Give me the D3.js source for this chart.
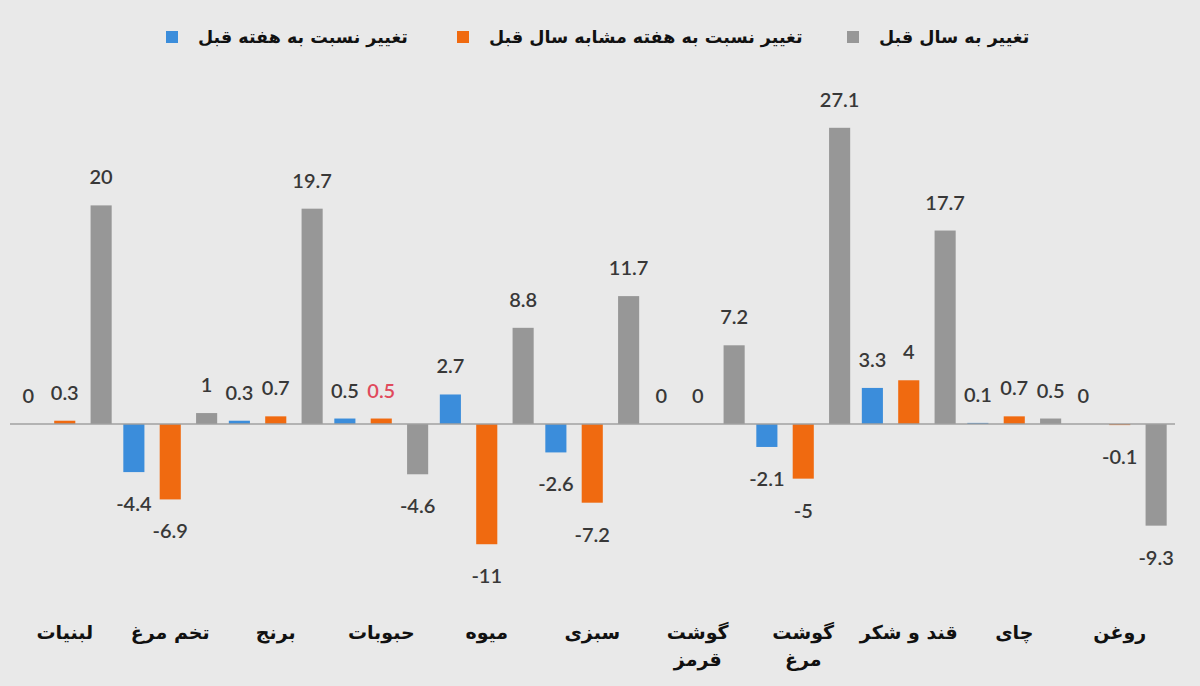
<!DOCTYPE html>
<html><head><meta charset="utf-8">
<script src="https://cdn.jsdelivr.net/npm/d3@7"></script>
<style>
html,body{margin:0;padding:0;background:#e9e9e9;}
svg{display:block;}
</style>
</head><body>
<svg id="chart" width="1200" height="686"></svg>
<script>
const categories = ["لبنیات","تخم مرغ","برنج","حبوبات","میوه","سبزی","گوشت قرمز","گوشت مرغ","قند و شکر","چای","روغن"];
const categoryLines = [["لبنیات"],["تخم مرغ"],["برنج"],["حبوبات"],["میوه"],["سبزی"],["گوشت","قرمز"],["گوشت","مرغ"],["قند و شکر"],["چای"],["روغن"]];
const seriesNames = ["تغییر نسبت به هفته قبل","تغییر نسبت به هفته مشابه سال قبل","تغییر به سال قبل"];
const weekChange = [0,-4.4,0.3,0.5,2.7,-2.6,0,-2.1,3.3,0.1,0];
const sameWeekLastYear = [0.3,-6.9,0.7,0.5,-11,-7.2,0,-5,4,0.7,-0.1];
const yearChange = [20,1,19.7,-4.6,8.8,11.7,7.2,27.1,17.7,0.5,-9.3];
const seriesColors = ["#3b8ddb","#f06a10","#979797"];
const highlightLabel = {series:1, category:3, color:"#e04a5c"};

const seriesValues = [weekChange, sameWeekLastYear, yearChange];
const svg = d3.select("#chart");

const x0 = d3.scaleBand().domain(categories).range([12, 1172.5]).paddingInner(0).paddingOuter(0);
const x1 = d3.scaleBand().domain(d3.range(3)).range([0, x0.bandwidth()]).paddingInner(0.42).paddingOuter(0.16);
const y = d3.scaleLinear().domain([-12, 28]).range([424 + 12*10.93, 424 - 28*10.93]);

const data = [];
categories.forEach((c,i)=>{
  seriesValues.forEach((arr,s)=>{ data.push({c, i, s, v: arr[i]}); });
});

// bars
svg.append("g").selectAll("rect").data(data).join("rect")
  .attr("x", d => x0(d.c) + x1(d.s))
  .attr("width", x1.bandwidth())
  .attr("y", d => y(Math.max(0, d.v)))
  .attr("height", d => Math.abs(y(d.v) - y(0)))
  .attr("fill", d => seriesColors[d.s]);

// zero line
svg.append("line")
  .attr("x1", 10).attr("x2", 1175)
  .attr("y1", y(0)).attr("y2", y(0))
  .attr("stroke", "#a0a0a0").attr("stroke-width", 1.6);

// value labels
svg.append("g").selectAll("text").data(data).join("text")
  .attr("x", d => x0(d.c) + x1(d.s) + x1.bandwidth()/2)
  .attr("y", d => d.v >= 0 ? y(d.v) - 21 : y(d.v) + 39)
  .attr("text-anchor", "middle")
  .attr("font-family", "Lato, 'Open Sans', sans-serif")
  .attr("font-size", 20)
  .attr("font-weight", 600)
  .attr("fill", d => (d.s === highlightLabel.series && d.i === highlightLabel.category) ? highlightLabel.color : "#383838")
  .text(d => String(d.v));

// category labels
const cat = svg.append("g").selectAll("text").data(categories).join("text")
  .attr("x", d => x0(d) + x0.bandwidth()/2)
  .attr("y", 639)
  .attr("text-anchor", "middle")
  .attr("direction", "rtl")
  .attr("font-family", "'DejaVu Sans', sans-serif")
  .attr("font-size", 19)
  .attr("font-weight", "bold")
  .attr("fill", "#111");
cat.each(function(d,i){
  const t = d3.select(this);
  categoryLines[i].forEach((ln,k)=>{
    t.append("tspan").attr("x", x0(d) + x0.bandwidth()/2).attr("dy", k===0 ? 0 : 27).text(ln);
  });
});

// legend
const legendX = [172, 463, 853];
const lg = svg.append("g").selectAll("g").data(seriesNames).join("g")
  .attr("transform", (d,i) => `translate(${legendX[i]},37)`);
lg.append("rect").attr("x", -6).attr("y", -6).attr("width", 12).attr("height", 12)
  .attr("fill", (d,i) => seriesColors[i]);
lg.append("text").attr("x", 26).attr("y", 6)
  .attr("text-anchor", "end").attr("direction", "rtl")
  .attr("font-family", "'DejaVu Sans', sans-serif")
  .attr("font-size", 17.5).attr("font-weight", "bold").attr("fill", "#111")
  .text(d => d);
</script>
</body></html>
